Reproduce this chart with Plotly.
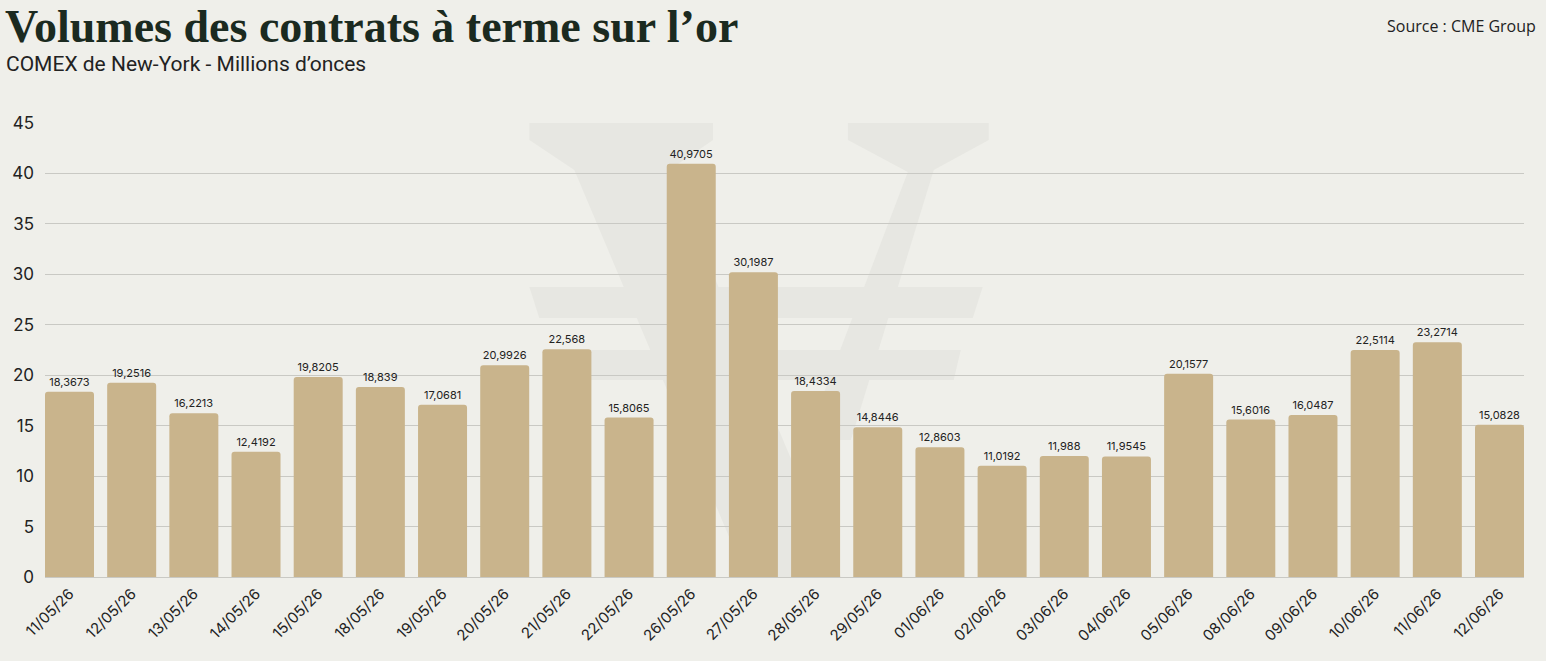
import plotly.graph_objects as go

dates = ["11/05/26", "12/05/26", "13/05/26", "14/05/26", "15/05/26", "18/05/26",
         "19/05/26", "20/05/26", "21/05/26", "22/05/26", "26/05/26", "27/05/26",
         "28/05/26", "29/05/26", "01/06/26", "02/06/26", "03/06/26", "04/06/26",
         "05/06/26", "08/06/26", "09/06/26", "10/06/26", "11/06/26", "12/06/26"]
volumes = [18.3673, 19.2516, 16.2213, 12.4192, 19.8205, 18.839,
           17.0681, 20.9926, 22.568, 15.8065, 40.9705, 30.1987,
           18.4334, 14.8446, 12.8603, 11.0192, 11.988, 11.9545,
           20.1577, 15.6016, 16.0487, 22.5114, 23.2714, 15.0828]
y_ticks = [0, 5, 10, 15, 20, 25, 30, 35, 40, 45]

BG = "#efefea"
BAR = "#c9b48c"
WM = "#e7e7e2"

labels = [str(v).replace(".", ",") for v in volumes]

fig = go.Figure()
fig.add_trace(go.Bar(
    x=list(range(len(dates))), y=volumes,
    marker=dict(color=BAR, line=dict(width=0), cornerradius=3),
    text=labels, textposition="outside", cliponaxis=False,
    textfont=dict(family="Inter", size=11, color="#222222"),
    hoverinfo="skip",
))

W, H = 1546, 661
L, R, T, B = 43, 22, 123, 84
pw, ph = W - L - R, H - T - B

def px(x):
    return (x - L) / pw

def py(y):
    return (H - B - y) / ph

def path(pts):
    return "M " + " L ".join(f"{px(x):.4f},{py(y):.4f}" for x, y in pts) + " Z"

wm_polys = [
    # left arm
    [(528, 123), (712, 123), (712, 140), (668, 170), (840, 577), (745, 577), (573, 170), (528, 140)],
    # right arm
    [(847, 123), (988, 123), (988, 140), (933, 170), (850, 440), (805, 440), (907, 172), (847, 140)],
    # upper crossbar
    [(528, 287), (982, 287), (972, 318), (538, 318)],
    # lower crossbar
    [(548, 350), (960, 350), (953, 380), (558, 380)],
]
shapes = [dict(type="path", xref="paper", yref="paper", path=path(p),
               fillcolor=WM, line=dict(width=0), layer="below") for p in wm_polys]

fig.update_layout(
    width=W, height=H,
    margin=dict(l=L, r=R, t=T, b=B, pad=0),
    paper_bgcolor=BG, plot_bgcolor=BG,
    bargap=0.212,
    showlegend=False,
    shapes=shapes,
    xaxis=dict(
        range=[-0.394, len(dates) - 1 + 0.394],
        tickmode="array", tickvals=list(range(len(dates))), ticktext=dates,
        tickangle=-45, showgrid=False, zeroline=False, showline=False,
        ticks="", ticklabelstandoff=4,
        tickfont=dict(family="Inter", size=15, color="#222222"),
    ),
    yaxis=dict(
        range=[0, 45], tickmode="array", tickvals=y_ticks,
        showgrid=True, gridcolor="#c9c9c4", gridwidth=1,
        zeroline=True, zerolinecolor="#c9c9c4", zerolinewidth=1,
        showline=False, ticks="", ticklabelstandoff=10,
        tickfont=dict(family="Inter", size=17, color="#222222"),
    ),
    annotations=[
        dict(text="Volumes des contrats à terme sur l’or", xref="paper", yref="paper",
             x=px(2), y=py(26.5), xanchor="left", yanchor="middle", showarrow=False,
             borderpad=0,
             font=dict(family="Liberation Serif", size=46, color="#1b2a20", weight="bold")),
        dict(text="COMEX de New-York - Millions d’onces", xref="paper", yref="paper",
             x=px(2), y=py(64), xanchor="left", yanchor="middle", showarrow=False,
             font=dict(family="Roboto", size=21, color="#222222")),
        dict(text="Source : CME Group", xref="paper", yref="paper",
             x=px(1538), y=py(26), xanchor="right", yanchor="middle", showarrow=False,
             font=dict(family="Open Sans", size=16, color="#222222")),
    ],
)

fig.write_html("out.html")
